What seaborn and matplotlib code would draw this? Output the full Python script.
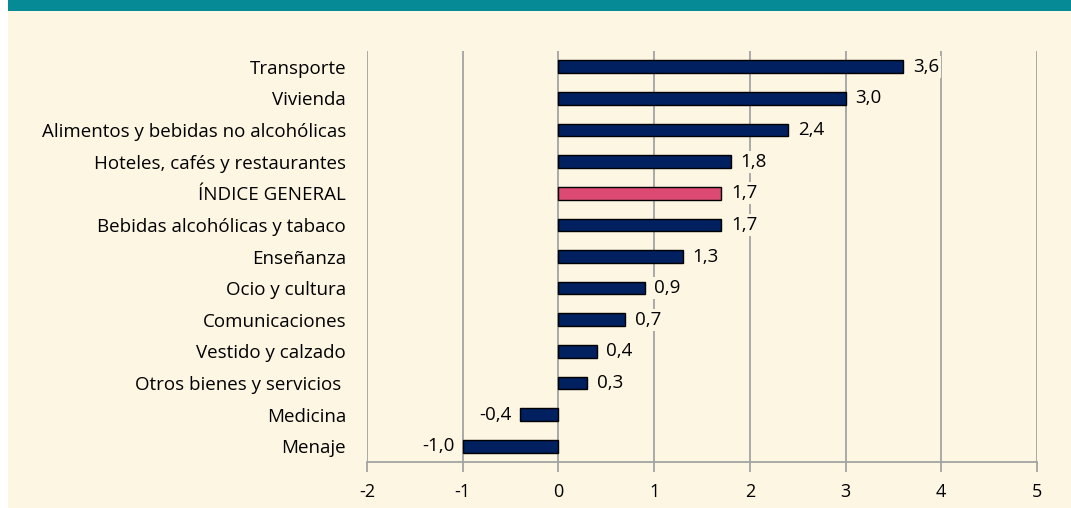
import matplotlib
matplotlib.use("Agg")
import matplotlib.pyplot as plt
import seaborn as sns
import pandas as pd
from matplotlib.patches import Rectangle

categorias = [
    "Transporte",
    "Vivienda",
    "Alimentos y bebidas no alcohólicas",
    "Hoteles, cafés y restaurantes",
    "ÍNDICE GENERAL",
    "Bebidas alcohólicas y tabaco",
    "Enseñanza",
    "Ocio y cultura",
    "Comunicaciones",
    "Vestido y calzado",
    "Otros bienes y servicios ",
    "Medicina",
    "Menaje",
]
valores = [3.6, 3.0, 2.4, 1.8, 1.7, 1.7, 1.3, 0.9, 0.7, 0.4, 0.3, -0.4, -1.0]
ticks_x = [-2, -1, 0, 1, 2, 3, 4, 5]

AZUL = "#002060"
ROSA = "#DC4A74"
CREMA = "#FDF6E3"
TEAL = "#068A96"
GRIS = "#A3A3A3"

sns.set_theme(style="white")
plt.rcParams["font.family"] = ["Open Sans", "DejaVu Sans"]

df = pd.DataFrame({"categoria": categorias, "valor": valores})
colores = {c: (ROSA if c == "ÍNDICE GENERAL" else AZUL) for c in categorias}

W, H = 1071, 508
fig = plt.figure(figsize=(W / 100, H / 100), dpi=100)
fig.patch.set_facecolor("white")

# cream panel and teal header strip
fig.add_artist(Rectangle((8 / W, 0), 1 - 8 / W, 1 - 11 / H, transform=fig.transFigure,
                         facecolor=CREMA, edgecolor="none", zorder=0))
fig.add_artist(Rectangle((8 / W, 1 - 11 / H), 1 - 8 / W, 11 / H, transform=fig.transFigure,
                         facecolor=TEAL, edgecolor="none", zorder=0))

x0, x1 = 367 / W, 1037 / W
y0, y1 = 1 - 462 / H, 1 - 51 / H
ax = fig.add_axes([x0, y0, x1 - x0, y1 - y0])
ax.set_facecolor("none")

sns.barplot(data=df, x="valor", y="categoria", hue="categoria", palette=colores,
            orient="h", width=0.4, edgecolor="black", linewidth=1.0, saturation=1,
            legend=False, ax=ax, zorder=3)

ax.set_xlim(-2, 5)
ax.set_ylim(len(categorias) - 0.5, -0.5)
ax.set_xticks(ticks_x)
ax.set_xticklabels([str(t) for t in ticks_x])
ax.set_xlabel("")
ax.set_ylabel("")

ax.grid(axis="x", color=GRIS, linewidth=1.3, zorder=0)
ax.set_axisbelow(True)
for s in ["top", "right", "left"]:
    ax.spines[s].set_visible(False)
ax.spines["bottom"].set_color(GRIS)
ax.spines["bottom"].set_linewidth(1.3)

ax.tick_params(axis="x", length=7, width=1.3, color=GRIS, direction="out",
               labelsize=13, labelcolor="black", pad=8, bottom=True)
ax.tick_params(axis="y", length=0, labelsize=13.5, labelcolor="black", pad=15, left=False)

for i, v in enumerate(valores):
    txt = f"{v:.1f}".replace(".", ",")
    if v >= 0:
        ax.annotate(txt, (v, i), xytext=(7, 0), textcoords="offset points",
                    ha="left", va="center", fontsize=13.5, color="black", zorder=4,
                    bbox=dict(boxstyle="square,pad=0.1", facecolor=CREMA, edgecolor="none"))
    else:
        ax.annotate(txt, (v, i), xytext=(-6, 0), textcoords="offset points",
                    ha="right", va="center", fontsize=13.5, color="black", zorder=4,
                    bbox=dict(boxstyle="square,pad=0.1", facecolor=CREMA, edgecolor="none"))

fig.savefig("out.png", dpi=100, facecolor=fig.get_facecolor())
